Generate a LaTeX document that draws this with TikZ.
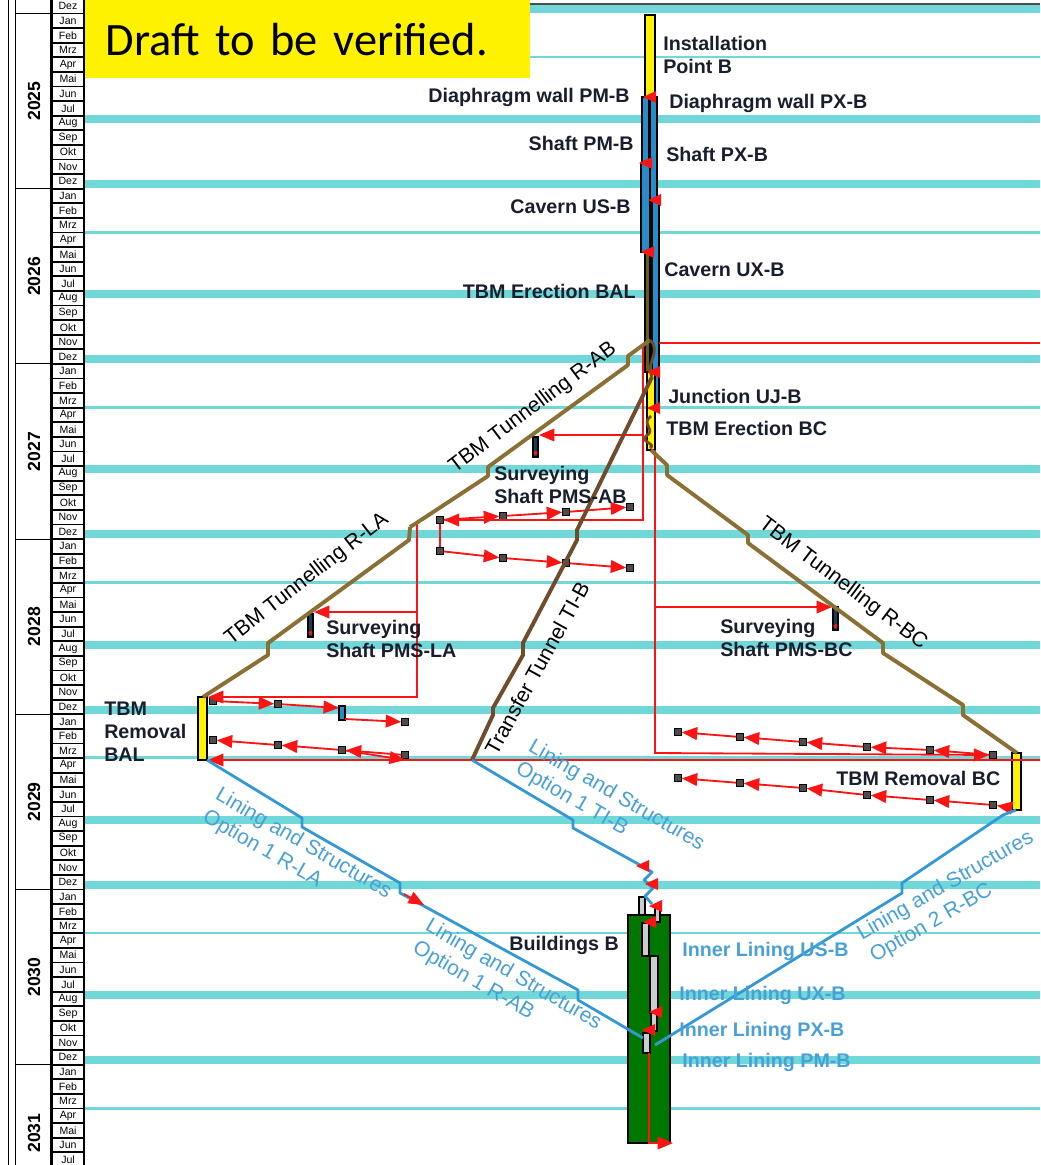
\documentclass[tikz,border=0pt]{standalone}
\usepackage{fontspec}
\setmainfont{Liberation Sans}
\newfontfamily\draftfont{Carlito}
\usetikzlibrary{
  arrows.meta,
  positioning,
  calc
}
\definecolor{holiday}{RGB}{112,216,216}
\definecolor{tbmbrown}{RGB}{139,112,53}
\definecolor{transbrown}{RGB}{112,76,42}
\definecolor{liningblue}{RGB}{52,152,212}
\definecolor{labelblue}{RGB}{72,160,215}
\definecolor{shaftblue}{RGB}{40,140,200}
\definecolor{olivebar}{RGB}{100,95,20}
\definecolor{bldgreen}{RGB}{0,120,0}
\definecolor{textdark}{RGB}{25,30,45}
\definecolor{deprred}{RGB}{250,20,20}
\tikzset{
  % Holiday bands of the calendar
  holthick/.style={draw=holiday, line width=5.6pt},
  holthin/.style={draw=holiday, line width=2pt},
  % Calendar cells
  monthcell/.style={draw=black, line width=1.4pt, fill=white},
  monthlabel/.style={font=\fontsize{7.5}{8}\selectfont, inner sep=0pt},
  yearlabel/.style={rotate=90, font=\fontsize{12.5}{14}\selectfont\bfseries, inner sep=0pt},
  % Activity bars
  actbar/.style={draw=black, line width=1pt, fill=#1},
  % Tunnel drives and lining
  tbmline/.style={draw=tbmbrown, line width=2.8pt, line join=round},
  transline/.style={draw=transbrown, line width=2.8pt, line join=round},
  liningline/.style={draw=liningblue, line width=2pt, line join=round},
  % Dependencies
  depline/.style={draw=deprred, line width=1.3pt},
  deparrow/.style={depline, -{Triangle[length=11pt, width=9pt]}},
  depsq/.style={draw=black, fill=black!70, line width=0.8pt,
    minimum size=0.16cm, inner sep=0pt},
  % Labels
  actlabel/.style={font=\fontsize{14}{16.5}\selectfont\bfseries, text=textdark,
    inner sep=0pt, align=left},
  innerlabel/.style={font=\fontsize{14}{16.5}\selectfont\bfseries, text=labelblue,
    inner sep=0pt, anchor=west},
  drivelabel/.style={font=\fontsize{15}{18}\selectfont, text=black, inner sep=0pt},
  lininglabel/.style={font=\fontsize{15}{18}\selectfont, text=labelblue,
    inner sep=0pt, align=left},
  draftbox/.style={anchor=north west, fill=yellow, minimum width=11.125cm,
    minimum height=1.95cm, text width=10.1cm, inner xsep=0.5cm, align=left,
    font=\draftfont\fontsize{33}{40}\selectfont},
}

\begin{document}
\begin{tikzpicture}[x=0.025cm, y=-0.025cm]

\useasboundingbox (0,0) rectangle (1040,1165);
\clip (0,0) rectangle (1040,1165);

% ── Holiday bands ─────────────────────────────────────────────────────────────
\foreach \yr in {2024,...,2031}{
  \pgfmathsetmacro{\ys}{13.5+175.2*(\yr-2025)}
  \draw[holthin]  (85,\ys+43.5)  -- (1040,\ys+43.5);
  \draw[holthick] (85,\ys+105.5) -- (1040,\ys+105.5);
  \draw[holthick] (85,\ys+170.5) -- (1040,\ys+170.5);
}
\draw[black!70, line width=0.8pt] (85,4) -- (1040,4);

% ── Time axis ─────────────────────────────────────────────────────────────────
\draw[line width=0.6pt] (8,0) -- (8,1165) (15,0) -- (15,1165) (50,0) -- (50,1165);
\foreach \yr in {2024,...,2031}{
  \pgfmathsetmacro{\ys}{13.5+175.2*(\yr-2025)}
  \pgfmathsetmacro{\yc}{min(\ys+87.6,1133)}
  \draw[line width=0.8pt] (15,\ys) -- (50,\ys);
  \ifnum\yr>2024
    \node[yearlabel] (yr\yr) at (34,\yc) {\yr};
  \fi
  \foreach \mon [count=\m from 0] in {Jan,Feb,Mrz,Apr,Mai,Jun,Jul,Aug,Sep,Okt,Nov,Dez}{
    \pgfmathtruncatemacro{\vis}{and(\ys+14.6*\m+14.6>0, \ys+14.6*\m<1165)}
    \ifnum\vis=1
      \draw[monthcell] (52,\ys+14.6*\m) rectangle (84,\ys+14.6*\m+14.6);
      \node[monthlabel] (m\yr-\m) at (68,\ys+14.6*\m+7.3) {\mon};
    \fi
  }
}

% ── Draft stamp ───────────────────────────────────────────────────────────────
\node[draftbox] (draft) at (85,0) {Draft to be verified.};

% ── Activity bars ─────────────────────────────────────────────────────────────
% Point B column
\draw[actbar=yellow]    (645,15)  rectangle (655,97);
\draw[actbar=shaftblue] (642,97)  rectangle (649,163);
\draw[actbar=shaftblue] (650,97)  rectangle (657,200);
\draw[actbar=shaftblue] (641,163) rectangle (650,252);
\draw[actbar=shaftblue] (652,200) rectangle (659,410);
\draw[actbar=olivebar]  (645,252) rectangle (650,372);
\draw[actbar=yellow]    (647,372) rectangle (655,450);

% TBM removal
\draw[actbar=yellow] (198,697)  rectangle (207,760);
\draw[actbar=yellow] (1012,753) rectangle (1021,810);

% Surveying shafts
\draw[actbar=shaftblue!45!black] (533,437) rectangle (538,457);
\draw[actbar=shaftblue!45!black] (308,614) rectangle (313,637);
\draw[actbar=shaftblue!45!black] (833,607) rectangle (838,630);
\foreach \sx/\sy in {535.5/453, 310.5/633, 835.5/626}
  \fill[deprred] (\sx,\sy) circle (2);
\draw[actbar=shaftblue] (339,706) rectangle (345,720);

% Buildings and inner lining
\draw[actbar=bldgreen] (628,915) rectangle (670,1143);
\draw[actbar=black!20] (639,897)  rectangle (645,915);
\draw[actbar=black!20] (655,908)  rectangle (660,922);
\draw[actbar=black!20] (642,923)  rectangle (649,956);
\draw[actbar=black!20] (650,956)  rectangle (658,1013);
\draw[actbar=black!20] (651,1013) rectangle (657,1031);
\draw[actbar=black!20] (643,1033) rectangle (650,1053);

% ── Dependency network ────────────────────────────────────────────────────────
\coordinate (trunkAB) at (643,343);
\coordinate (trunkBC) at (655,450);
\coordinate (trunkLA) at (417,523);
\coordinate (colTop)  at (659,343);
\coordinate (pmsAB)   at (539,435);
\coordinate (pmsLA)   at (314,612);
\coordinate (pmsBC)   at (832,607);
\coordinate (balTop)  at (208,697);
\coordinate (balBot)  at (208,760);
\coordinate (bcBot)   at (1012,808);
\coordinate (rightEnd) at (1040,760);

% chain R-AB
\node[depsq] (ab1) at (440,520) {};
\node[depsq] (ab2) at (503,516) {};
\node[depsq] (ab3) at (566,512) {};
\node[depsq] (ab4) at (630,507) {};
\node[depsq] (ab5) at (440,551) {};
\node[depsq] (ab6) at (503,558) {};
\node[depsq] (ab7) at (566,563) {};
\node[depsq] (ab8) at (630,568) {};

% chain R-LA
\node[depsq] (la1) at (213,701) {};
\node[depsq] (la2) at (278,704) {};
\node[depsq] (la4) at (405,722) {};
\node[depsq] (la5) at (213,740) {};
\node[depsq] (la6) at (278,745) {};
\node[depsq] (la7) at (342,750) {};
\node[depsq] (la8) at (405,755) {};

% chain R-BC
\foreach \i/\bx/\by in {1/678/732, 2/740/737, 3/803/742, 4/867/747, 5/930/750, 6/993/755,
                        7/678/778, 8/740/783, 9/803/788, 10/867/795, 11/930/800, 12/993/805}
  \node[depsq] (bc\i) at (\bx,\by) {};

\draw[depline]  (colTop) -- (1040,343);
\draw[deparrow] (trunkAB) -- (643,520) -- (ab1);
\draw[deparrow] (643,435) -- (pmsAB);
\draw[deparrow] (ab1) -- (ab2);
\draw[deparrow] (ab2) -- (ab3);
\draw[deparrow] (ab3) -- (ab4);
\draw[depline]  (ab1) -- (ab5);
\draw[deparrow] (ab5) -- (ab6);
\draw[deparrow] (ab6) -- (ab7);
\draw[deparrow] (ab7) -- (ab8);

\draw[deparrow] (trunkLA) -- (417,697) -- (balTop);
\draw[deparrow] (417,612) -- (pmsLA);
\draw[deparrow] (la1) -- (la2);
\draw[deparrow] (la2) -- (339,708);
\draw[deparrow] (345,719) -- (la4);
\draw[deparrow] (la6) -- (la5);
\draw[deparrow] (la7) -- (la6);
\draw[deparrow] (la8) -- (la7);
\draw[deparrow] (la7) -- (405,760);
\draw[deparrow] (rightEnd) -- (balBot);

\draw[deparrow] (trunkBC) -- (655,753) -- (bc6);
\draw[deparrow] (655,607) -- (pmsBC);
\foreach \a/\b in {2/1, 3/2, 4/3, 5/4, 6/5, 8/7, 9/8, 10/9, 11/10, 12/11}
  \draw[deparrow] (bc\a) -- (bc\b);
\draw[deparrow] (bcBot) -- (bc12);

\draw[deparrow] (649,1053) -- (649,1143) -- (673,1143);

% ── Tunnel drives ─────────────────────────────────────────────────────────────
\draw[tbmline] (650,340) -- (628,356) -- (628,365) -- (488,467) -- (488,476)
  -- (418,522) -- (410,527);
\draw[tbmline] (410,527) -- (409,540) -- (268,643) -- (268,655) -- (203,697);
\draw[tbmline] (651,450) -- (667,465) -- (667,475) -- (748,535) -- (748,543)
  -- (883,643) -- (883,653) -- (963,705) -- (963,715) -- (1017,753);
\draw[transline] (652,377) -- (577,530) -- (577,540) -- (523,643) -- (523,655)
  -- (493,708) -- (493,715) -- (472,760);
\draw[transline, line width=2pt] (650,340) .. controls (662,352) and (645,362) .. (652,377);
\draw[transline, line width=2pt] (651,416) .. controls (640,424) and (657,430) .. (646,436)
  .. controls (640,442) and (657,444) .. (650,448);

% ── Lining and structures ─────────────────────────────────────────────────────
\draw[liningline] (207,760) -- (302,818) -- (302,827) -- (400,883) -- (400,893)
  -- (578,990) -- (578,1000) -- (643,1038);
\draw[liningline] (472,760) -- (573,820) -- (573,828) -- (640,865);
\draw[liningline] (1016,810) -- (1003,815) -- (902,883) -- (902,893) -- (655,1045);
\draw[liningline] (640,865) -- (652,872) -- (644,880) -- (653,888) -- (645,896) -- (652,904);
\draw[deparrow] (404,894) -- (424,905);

% ── Milestones ────────────────────────────────────────────────────────────────
\foreach \mx/\my in {650/97, 646/163, 655/200, 648/252, 654/372, 654/408,
                     643/866, 652/884, 656/906, 650/922, 656/1012, 649/1030}
  \fill[deprred] (\mx+6,\my-6) -- (\mx-7,\my) -- (\mx+6,\my+6) -- cycle;

% ── Activity labels ───────────────────────────────────────────────────────────
\node[actlabel, anchor=west] (lblInst)   at (663,55)  {Installation\\Point B};
\node[actlabel, anchor=east] (lblDwPM)   at (630,97)  {Diaphragm wall PM-B};
\node[actlabel, anchor=west] (lblDwPX)   at (669,103) {Diaphragm wall PX-B};
\node[actlabel, anchor=east] (lblShPM)   at (634,143) {Shaft PM-B};
\node[actlabel, anchor=west] (lblShPX)   at (666,154) {Shaft PX-B};
\node[actlabel, anchor=east] (lblCavUS)  at (631,207) {Cavern US-B};
\node[actlabel, anchor=west] (lblCavUX)  at (664,270) {Cavern UX-B};
\node[actlabel, anchor=east] (lblEreBAL) at (636,291) {TBM Erection BAL};
\node[actlabel, anchor=west] (lblJunc)   at (668,396) {Junction UJ-B};
\node[actlabel, anchor=west] (lblEreBC)  at (666,428) {TBM Erection BC};
\node[actlabel, anchor=west] (lblPMSAB)  at (494,485) {Surveying\\Shaft PMS-AB};
\node[actlabel, anchor=west] (lblPMSLA)  at (326,639) {Surveying\\Shaft PMS-LA};
\node[actlabel, anchor=west] (lblPMSBC)  at (720,638) {Surveying\\Shaft PMS-BC};
\node[actlabel, anchor=west] (lblRemBAL) at (104,732) {TBM\\Removal\\BAL};
\node[actlabel, anchor=west] (lblRemBC)  at (836,778) {TBM Removal BC};
\node[actlabel, anchor=east] (lblBld)    at (619,945) {Buildings B};

\node[innerlabel] (lblInUS) at (682,951)  {Inner Lining US-B};
\node[innerlabel] (lblInUX) at (679,995)  {Inner Lining UX-B};
\node[innerlabel] (lblInPX) at (679,1031) {Inner Lining PX-B};
\node[innerlabel] (lblInPM) at (682,1062) {Inner Lining PM-B};

% Drive labels
\node[drivelabel, rotate=37]  (lblRAB) at (533,408) {TBM Tunnelling R-AB};
\node[drivelabel, rotate=38]  (lblRLA) at (307,579) {TBM Tunnelling R-LA};
\node[drivelabel, rotate=61]  (lblTI)  at (537,668) {Transfer Tunnel TI-B};
\node[drivelabel, rotate=-37] (lblRBC) at (843,584) {TBM Tunnelling R-BC};

% Lining labels
\node[lininglabel, rotate=-30] (linLA) at (297,855) {Lining and Structures\\Option 1 R-LA};
\node[lininglabel, rotate=-30] (linTI) at (610,807) {Lining and Structures\\Option 1 TI-B};
\node[lininglabel, rotate=-30] (linAB) at (507,986) {Lining and Structures\\Option 1 R-AB};
\node[lininglabel, rotate=30]  (linBC) at (952,897) {Lining and Structures\\Option 2 R-BC};

\end{tikzpicture}
\end{document}
